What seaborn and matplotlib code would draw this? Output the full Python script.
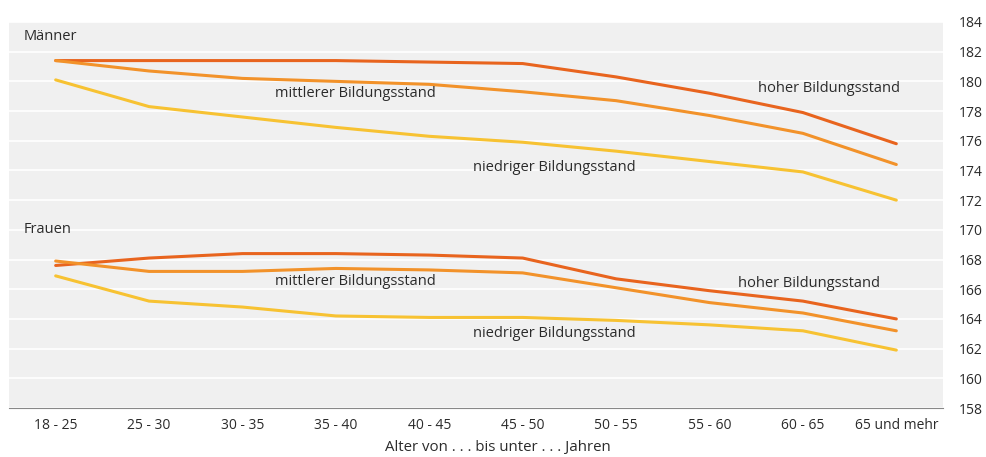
import pandas as pd
import seaborn as sns
import matplotlib.pyplot as plt

# Altersgruppen
alter = ['18 - 25', '25 - 30', '30 - 35', '35 - 40', '40 - 45',
         '45 - 50', '50 - 55', '55 - 60', '60 - 65', '65 und mehr']

# Körpergröße in cm nach Bildungsstand
maenner_hoch = [181.4, 181.4, 181.4, 181.4, 181.3, 181.2, 180.3, 179.2, 177.9, 175.8]
maenner_mittel = [181.4, 180.7, 180.2, 180.0, 179.8, 179.3, 178.7, 177.7, 176.5, 174.4]
maenner_niedrig = [180.1, 178.3, 177.6, 176.9, 176.3, 175.9, 175.3, 174.6, 173.9, 172.0]

frauen_hoch = [167.6, 168.1, 168.4, 168.4, 168.3, 168.1, 166.7, 165.9, 165.2, 164.0]
frauen_mittel = [167.9, 167.2, 167.2, 167.4, 167.3, 167.1, 166.1, 165.1, 164.4, 163.2]
frauen_niedrig = [166.9, 165.2, 164.8, 164.2, 164.1, 164.1, 163.9, 163.6, 163.2, 161.9]

bildung = ['hoher Bildungsstand', 'mittlerer Bildungsstand', 'niedriger Bildungsstand']
farben = {'hoher Bildungsstand': '#E8641E',
          'mittlerer Bildungsstand': '#F2922A',
          'niedriger Bildungsstand': '#F7C232'}


def build_frame():
    rows = []
    series = {
        ('Männer', bildung[0]): maenner_hoch,
        ('Männer', bildung[1]): maenner_mittel,
        ('Männer', bildung[2]): maenner_niedrig,
        ('Frauen', bildung[0]): frauen_hoch,
        ('Frauen', bildung[1]): frauen_mittel,
        ('Frauen', bildung[2]): frauen_niedrig,
    }
    for (geschlecht, stufe), werte in series.items():
        for i, (a, v) in enumerate(zip(alter, werte)):
            rows.append({'pos': i, 'Alter': a, 'Größe': v,
                         'Geschlecht': geschlecht, 'Bildung': stufe})
    return pd.DataFrame(rows)


data = build_frame()

sns.set_style('white')
plt.rcParams['font.family'] = ['Open Sans', 'DejaVu Sans']

fig = plt.figure(figsize=(9.86, 4.57), dpi=100)
ax = fig.add_axes([0.0091, 0.1072, 0.9473, 0.8447])
ax.set_facecolor('#F0F0F0')

sns.lineplot(data=data, x='pos', y='Größe', hue='Bildung', units='Geschlecht',
             estimator=None, palette=farben, linewidth=2.2, legend=False, ax=ax,
             zorder=3)

ax.set_xlim(-0.5, 9.5)
ax.set_ylim(158, 184)
ax.set_yticks(range(158, 185, 2))
ax.yaxis.tick_right()
ax.tick_params(axis='y', length=0, pad=11, labelsize=10, labelcolor='#2b2b2b')
ax.grid(axis='y', color='white', linewidth=1.2, zorder=0)
ax.set_axisbelow(True)

ax.set_xticks(range(len(alter)))
ax.set_xticklabels(alter)
ax.set_xticks([i - 0.5 for i in range(len(alter) + 1)], minor=True)
ax.tick_params(axis='x', which='major', length=0, pad=7, labelsize=10, labelcolor='#2b2b2b')
ax.tick_params(axis='x', which='minor', length=4, color='#888888', width=1)

for side in ['top', 'left', 'right']:
    ax.spines[side].set_visible(False)
ax.spines['bottom'].set_color('#888888')

ax.set_xlabel('Alter von . . . bis unter . . . Jahren', fontsize=10.8, color='#2b2b2b', labelpad=5)
ax.xaxis.label.set_x(0.523)
ax.set_ylabel('')

txt = dict(fontsize=10.5, color='#2b2b2b', va='center', ha='left')
ax.text(-0.34, 183.0, 'Männer', **txt)
ax.text(-0.34, 170.0, 'Frauen', **txt)
ax.text(2.35, 179.2, 'mittlerer Bildungsstand', **txt)
ax.text(4.47, 174.2, 'niedriger Bildungsstand', **txt)
ax.text(7.52, 179.5, 'hoher Bildungsstand', **txt)
ax.text(2.35, 166.5, 'mittlerer Bildungsstand', **txt)
ax.text(4.47, 163.0, 'niedriger Bildungsstand', **txt)
ax.text(7.3, 166.4, 'hoher Bildungsstand', **txt)

fig.savefig('out.png', dpi=100)
